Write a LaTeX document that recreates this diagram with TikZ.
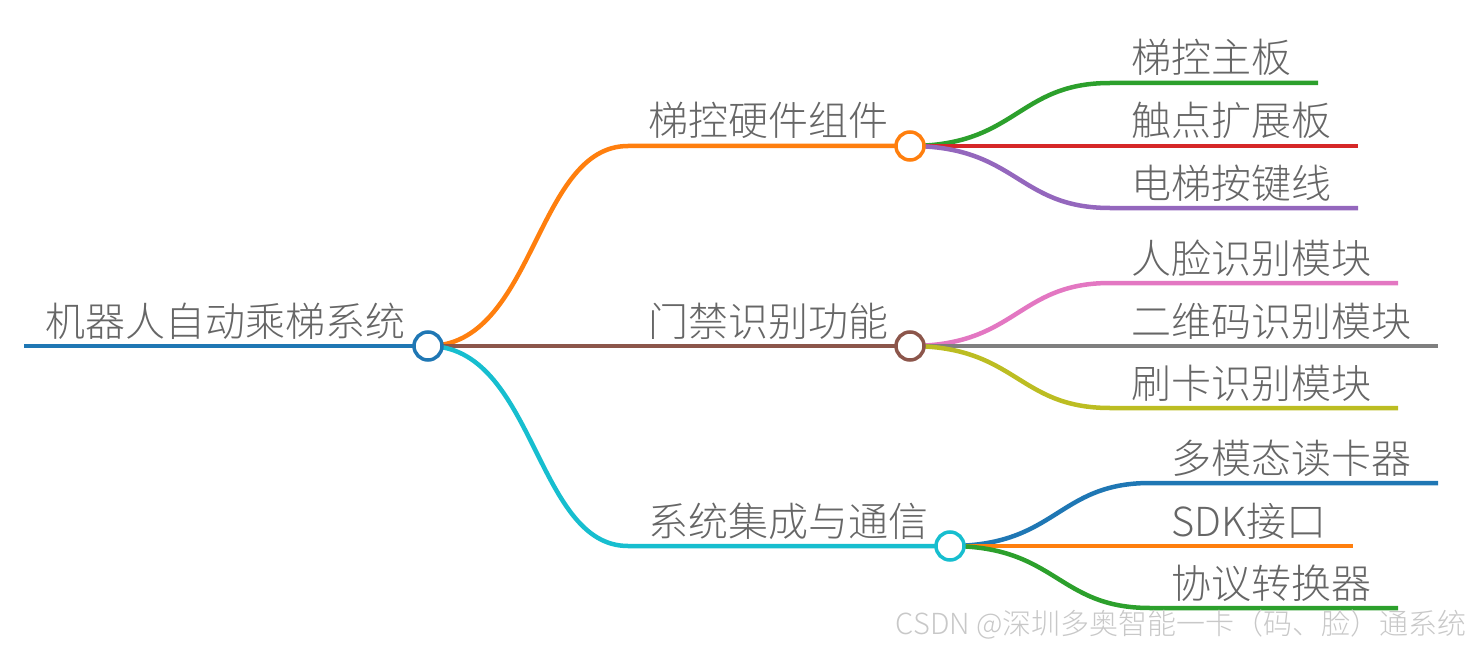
\documentclass[tikz,border=0pt]{standalone}
\usepackage{fontspec}
\setmainfont{Noto Sans CJK SC Light}
\definecolor{cBlue}{HTML}{1F77B4}
\definecolor{cOrange}{HTML}{FF7F0E}
\definecolor{cGreen}{HTML}{2CA02C}
\definecolor{cRed}{HTML}{D62728}
\definecolor{cPurple}{HTML}{9467BD}
\definecolor{cBrown}{HTML}{8C564B}
\definecolor{cPink}{HTML}{E377C2}
\definecolor{cGray}{HTML}{7F7F7F}
\definecolor{cOlive}{HTML}{BCBD22}
\definecolor{cCyan}{HTML}{17BECF}
\definecolor{txt}{HTML}{666666}
\definecolor{wm}{HTML}{C8C8C8}
\begin{document}
\begin{tikzpicture}[x=1pt,y=-1pt,
  edge/.style={line width=4.5pt},
  dot/.style={circle, draw, fill=white, line width=3.5pt, minimum size=28pt, inner sep=0pt},
  lbl/.style={anchor=base west, inner sep=0pt, text=txt, font=\fontsize{40}{48}\selectfont},
  wmark/.style={anchor=east, inner sep=0pt, text=wm, font=\fontsize{29}{34}\selectfont}]
\useasboundingbox (0,0) rectangle (1470,650);
% key points
\coordinate (r0) at (24,346);
\coordinate (c0) at (428,346);
\coordinate (c1) at (910,146);
\coordinate (c2) at (910,346);
\coordinate (c3) at (950,546);
\coordinate (h1) at (628,146);
\coordinate (h3) at (628,546);
% leaf horizontal starts / ends
\coordinate (a1) at (1110,83);  \coordinate (e1) at (1318,83);
\coordinate (e2) at (1358,146);
\coordinate (a3) at (1110,208); \coordinate (e3) at (1358,208);
\coordinate (b1) at (1110,283); \coordinate (f1) at (1398,283);
\coordinate (f2) at (1438,346);
\coordinate (b3) at (1110,408); \coordinate (f3) at (1398,408);
\coordinate (d1) at (1150,483); \coordinate (g1) at (1438,483);
\coordinate (g2) at (1353,546);
\coordinate (d3) at (1150,608); \coordinate (g3) at (1398,608);
% root
\draw[edge, cBlue] (r0) -- (c0);
% level 1
\draw[edge, cOrange] (c0) .. controls (535,346) and (535,146) .. (h1) -- (c1);
\draw[edge, cBrown] (c0) -- (c2);
\draw[edge, cCyan] (c0) .. controls (535,346) and (535,546) .. (h3) -- (c3);
% level 2
\draw[edge, cGreen] (c1) .. controls (1017,146) and (1017,83) .. (a1) -- (e1);
\draw[edge, cRed] (c1) -- (e2);
\draw[edge, cPurple] (c1) .. controls (1017,146) and (1017,208) .. (a3) -- (e3);
\draw[edge, cPink] (c2) .. controls (1017,346) and (1017,283) .. (b1) -- (f1);
\draw[edge, cGray] (c2) -- (f2);
\draw[edge, cOlive] (c2) .. controls (1017,346) and (1017,408) .. (b3) -- (f3);
\draw[edge, cBlue] (c3) .. controls (1057,546) and (1057,483) .. (d1) -- (g1);
\draw[edge, cOrange] (c3) -- (g2);
\draw[edge, cGreen] (c3) .. controls (1057,546) and (1057,608) .. (d3) -- (g3);
% circles
\node[dot, draw=cBlue] (n0) at (c0) {};
\node[dot, draw=cOrange] (n1) at (c1) {};
\node[dot, draw=cBrown] (n2) at (c2) {};
\node[dot, draw=cCyan] (n3) at (c3) {};
% labels
\node[lbl] (t0) at (45,336) {机器人自动乘梯系统};
\node[lbl] (t1) at (648,136) {梯控硬件组件};
\node[lbl] (t2) at (648,336) {门禁识别功能};
\node[lbl] (t3) at (648,536) {系统集成与通信};
\node[lbl] (t11) at (1131,73) {梯控主板};
\node[lbl] (t12) at (1131,136) {触点扩展板};
\node[lbl] (t13) at (1131,198) {电梯按键线};
\node[lbl] (t21) at (1131,273) {人脸识别模块};
\node[lbl] (t22) at (1131,336) {二维码识别模块};
\node[lbl] (t23) at (1131,398) {刷卡识别模块};
\node[lbl] (t31) at (1171,473) {多模态读卡器};
\node[lbl] (t32) at (1171,536) {SDK接口};
\node[lbl] (t33) at (1171,598) {协议转换器};
\node[wmark] (wm) at (1467,625) {CSDN @深圳多奥智能一卡（码、脸）通系统};
\end{tikzpicture}
\end{document}
